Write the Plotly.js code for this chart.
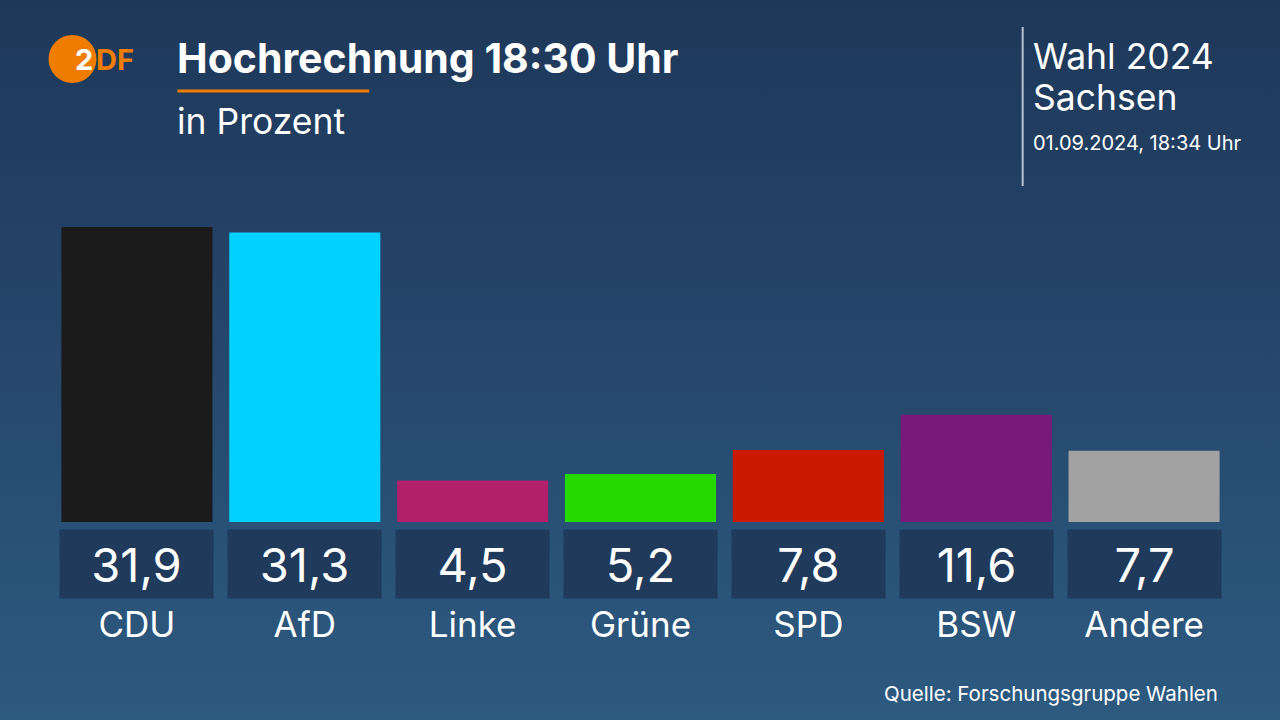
<!DOCTYPE html>
<html>
<head>
<meta charset="utf-8">
<script src="https://cdn.plot.ly/plotly-3.0.1.min.js"></script>
<style>
html,body{margin:0;padding:0;width:1280px;height:720px;overflow:hidden;
background:linear-gradient(180deg,#1e3859 0%,#244468 40%,#2d5a80 100%);}
#chart{width:1280px;height:720px;}
</style>
</head>
<body>
<div id="chart"></div>
<script>
const parties = ['CDU','AfD','Linke','Grüne','SPD','BSW','Andere'];
const values = [31.9, 31.3, 4.5, 5.2, 7.8, 11.6, 7.7];
const colors = ['#1b1b1b','#00d2ff','#b3206a','#27d800','#c91a00','#7a1a78','#a2a2a2'];

const FONT = 'Inter, Noto Sans, sans-serif';
const fmt = v => v.toFixed(1).replace('.', ',');

// plot area geometry (pixels)
const M = {l: 52.5, r: 51.5, t: 160, b: 120};
const PW = 1280 - M.l - M.r, PH = 720 - M.t - M.b;
const px = x => (x - M.l) / PW;
const py = y => (720 - M.b - y) / PH;

const trace = {
  type: 'bar',
  x: parties,
  y: values,
  width: 0.9,
  marker: {color: colors, line: {width: 0}},
  hoverinfo: 'skip'
};

const annotations = [];
parties.forEach((p, i) => {
  annotations.push({
    x: p, xref: 'x', y: -4.55, yref: 'y',
    text: fmt(values[i]), showarrow: false,
    width: 151, height: 66, bgcolor: '#1f3a5b',
    font: {family: FONT, size: 47, color: '#ffffff'},
    xanchor: 'center', yanchor: 'middle'
  });
});

function txt(x, y, text, size, anchor, color) {
  return {x: px(x), y: py(y), xref: 'paper', yref: 'paper', xanchor: anchor || 'left', yanchor: 'middle',
          text: text, showarrow: false, font: {family: FONT, size: size, color: color || '#ffffff'}};
}

annotations.push(
  txt(175, 58, '<b>Hochrechnung 18:30 Uhr</b>', 41),
  txt(175, 121, 'in Prozent', 35.5),
  txt(1031, 57, 'Wahl 2024', 35.5),
  txt(1031, 97, 'Sachsen', 35.5),
  txt(1031, 143, '01.09.2024, 18:34 Uhr', 20),
  txt(1220, 693, 'Quelle: Forschungsgruppe Wahlen', 20.5, 'right'),
  txt(73, 59, '<b>2</b>', 29),
  txt(94, 59, '<b>DF</b>', 29, 'left', '#f07d00')
);

const shapes = [
  {type: 'circle', xref: 'paper', yref: 'paper', layer: 'below',
   x0: px(48), x1: px(96), y0: py(83), y1: py(35),
   fillcolor: '#f07d00', line: {width: 0}},
  {type: 'line', xref: 'paper', yref: 'paper',
   x0: px(177), x1: px(369), y0: py(91), y1: py(91),
   line: {color: '#f07d00', width: 3}},
  {type: 'line', xref: 'paper', yref: 'paper',
   x0: px(1023), x1: px(1023), y0: py(27), y1: py(186),
   line: {color: 'rgba(220,228,238,0.8)', width: 2}}
];

const layout = {
  width: 1280, height: 720,
  paper_bgcolor: 'rgba(0,0,0,0)',
  plot_bgcolor: 'rgba(0,0,0,0)',
  margin: M,
  showlegend: false,
  xaxis: {
    type: 'category', range: [-0.5, 6.5], fixedrange: true,
    showgrid: false, zeroline: false, showline: false, ticks: '',
    tickfont: {family: FONT, size: 35, color: '#ffffff'},
    ticklabelstandoff: 1
  },
  yaxis: {
    range: [-8.43, 39.14], fixedrange: true,
    showgrid: false, zeroline: false, showline: false, showticklabels: false, ticks: ''
  },
  annotations: annotations,
  shapes: shapes
};

Plotly.newPlot('chart', [trace], layout, {displayModeBar: false, staticPlot: true});
</script>
</body>
</html>
